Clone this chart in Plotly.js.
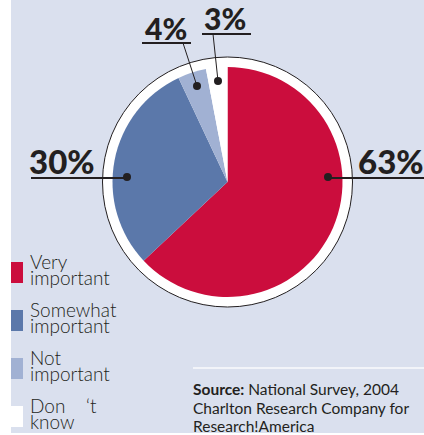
<!DOCTYPE html>
<html><head><meta charset="utf-8">
<script src="https://cdn.plot.ly/plotly-3.0.1.min.js"></script>
<style>html,body{margin:0;padding:0;background:#fff;}#chart{width:424px;height:435px;}</style>
</head><body><div id="chart"></div>
<script>
// ---- data ----
const categories = ["Very important", "Somewhat important", "Not important", "Don 't know"];
const values = [63, 30, 4, 3];
const legendLines = [["Very", "important"], ["Somewhat", "important"], ["Not", "important"], ["Don    \u2018t", "know"]];
const colors = ["#cb0d3d", "#5b78aa", "#a1b1d3", "#ffffff"];
const sourceLines = ["<b>Source:</b> National Survey, 2004", "Charlton Research Company for", "Research!America"];

const W = 424, H = 435;
const px = x => x / W, py = y => 1 - y / H;
const dark = "#231f20";
const bg = "#dae0ee";

const shapes = [];
const annotations = [];

// background panel
shapes.push({type: "rect", xref: "paper", yref: "paper", x0: px(11), x1: px(424), y0: py(433), y1: py(0), fillcolor: bg, line: {width: 0}, layer: "below"});
// white ring behind pie
shapes.push({type: "circle", xref: "paper", yref: "paper", x0: px(102.5), x1: px(352.5), y0: py(307), y1: py(57), fillcolor: "#ffffff", line: {color: dark, width: 1}, layer: "below"});

// percent labels with underlines, callout lines and dots
const callouts = [
  {i: 0, tx: 391, ty: 161, size: 33, ux0: 328, ux1: 424, uy: 178, dot: [328, 177], lead: null},
  {i: 1, tx: 62, ty: 161, size: 33, ux0: 31, ux1: 127, uy: 178, dot: [127, 177], lead: null},
  {i: 2, tx: 166, ty: 28, size: 30, ux0: 142, ux1: 191, uy: 43, dot: [197, 86], lead: [183, 43]},
  {i: 3, tx: 225, ty: 18, size: 30, ux0: 202, ux1: 251, uy: 34, dot: [218, 81], lead: [213, 34]}
];
callouts.forEach(c => {
  annotations.push({xref: "paper", yref: "paper", x: px(c.tx), y: py(c.ty), xanchor: "center", yanchor: "middle", showarrow: false,
    text: values[c.i] + "%", font: {family: "Lato, sans-serif", size: c.size, weight: 900, color: dark}});
  shapes.push({type: "line", xref: "paper", yref: "paper", x0: px(c.ux0), x1: px(c.ux1), y0: py(c.uy), y1: py(c.uy), line: {color: dark, width: 2}});
  if (c.lead) shapes.push({type: "line", xref: "paper", yref: "paper", x0: px(c.lead[0]), x1: px(c.dot[0]), y0: py(c.lead[1]), y1: py(c.dot[1]), line: {color: dark, width: 1}});
  const r = 4;
  shapes.push({type: "circle", xref: "paper", yref: "paper", x0: px(c.dot[0] - r), x1: px(c.dot[0] + r), y0: py(c.dot[1] + r), y1: py(c.dot[1] - r), fillcolor: dark, line: {width: 0}});
});

// legend
const legTop = [262, 310, 358, 406];
categories.forEach((cat, i) => {
  const t = legTop[i];
  shapes.push({type: "rect", xref: "paper", yref: "paper", x0: px(11), x1: px(23), y0: py(t + 21), y1: py(t), fillcolor: colors[i], line: {width: 0}});
  legendLines[i].forEach((ln, j) => {
    annotations.push({xref: "paper", yref: "paper", x: px(28), y: py(t - 1 + j * 16), xanchor: "left", yanchor: "middle", showarrow: false,
      text: ln, font: {family: "Lato, sans-serif", size: 19, weight: 300, color: dark}});
  });
});

// source
shapes.push({type: "line", xref: "paper", yref: "paper", x0: px(193), x1: px(424), y0: py(368), y1: py(368), line: {color: "#f2f4f9", width: 2}});
sourceLines.forEach((s, j) => {
  annotations.push({xref: "paper", yref: "paper", x: px(191), y: py(389 + j * 18.5), xanchor: "left", yanchor: "middle", showarrow: false,
    text: s, font: {family: "Lato, sans-serif", size: 15.5, color: dark}});
});

const trace = {
  type: "pie", labels: categories, values: values, sort: false, direction: "clockwise", rotation: 0,
  marker: {colors: colors, line: {width: 0}}, textinfo: "none", hoverinfo: "none", showlegend: false,
  domain: {x: [px(112), px(343)], y: [py(297), py(67)]}
};

Plotly.newPlot("chart", [trace], {
  width: W, height: H, margin: {l: 0, r: 0, t: 0, b: 0},
  paper_bgcolor: "#ffffff", plot_bgcolor: "rgba(0,0,0,0)", showlegend: false,
  shapes: shapes, annotations: annotations
}, {displayModeBar: false, staticPlot: true});
</script></body></html>
